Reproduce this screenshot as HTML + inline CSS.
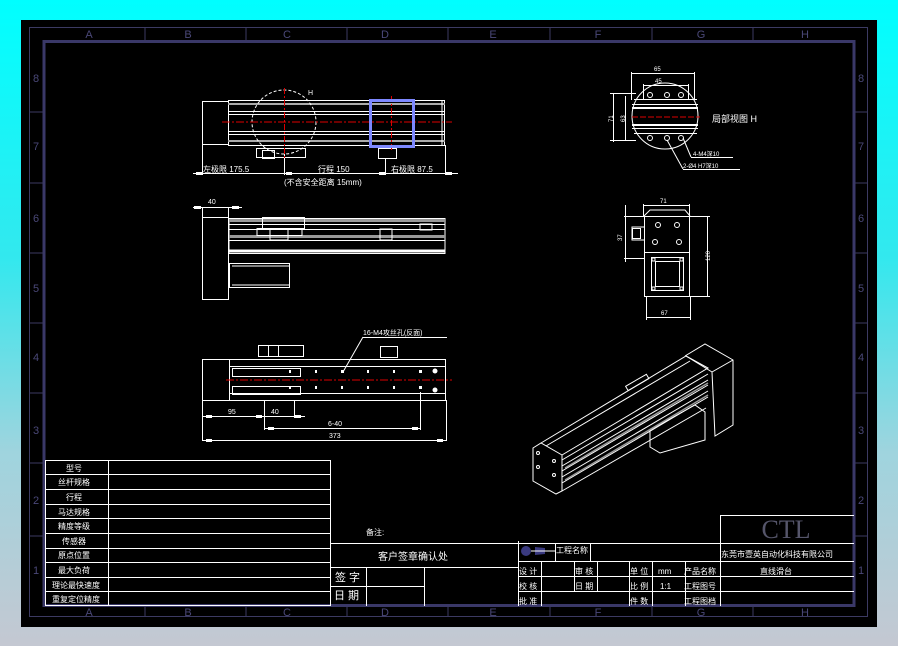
<!DOCTYPE html>
<html><head><meta charset="utf-8"><style>
html,body{margin:0;padding:0;width:898px;height:646px;overflow:hidden;}
body{background:linear-gradient(180deg,#00ffff 0%,#33e8ee 40%,#9fd4de 70%,#c4c8d2 100%);}
svg{position:absolute;left:0;top:0}
text{font-family:"Liberation Sans","Noto Sans CJK SC",sans-serif;fill:#fff;}
</style></head><body>
<svg width="898" height="646" viewBox="0 0 898 646" xmlns="http://www.w3.org/2000/svg">
<rect x="21" y="20" width="856" height="607" fill="#000"/>
<!-- outer thin frame -->
<rect x="29.5" y="27.5" width="838" height="589" fill="none" stroke="#3c3a62" stroke-width="1"/>
<rect x="44" y="41.5" width="810" height="564" fill="none" stroke="#3a3868" stroke-width="3"/>
<g stroke="#3c3a62" stroke-width="1">
<line x1="145" y1="27" x2="145" y2="41"/><line x1="246" y1="27" x2="246" y2="41"/><line x1="347" y1="27" x2="347" y2="41"/><line x1="448" y1="27" x2="448" y2="41"/><line x1="550" y1="27" x2="550" y2="41"/><line x1="652" y1="27" x2="652" y2="41"/><line x1="753" y1="27" x2="753" y2="41"/>
<line x1="145" y1="606" x2="145" y2="617"/><line x1="246" y1="606" x2="246" y2="617"/><line x1="347" y1="606" x2="347" y2="617"/><line x1="448" y1="606" x2="448" y2="617"/><line x1="550" y1="606" x2="550" y2="617"/><line x1="652" y1="606" x2="652" y2="617"/><line x1="753" y1="606" x2="753" y2="617"/>
<line x1="29" y1="112" x2="44" y2="112"/><line x1="29" y1="183" x2="44" y2="183"/><line x1="29" y1="253" x2="44" y2="253"/><line x1="29" y1="323" x2="44" y2="323"/><line x1="29" y1="393" x2="44" y2="393"/><line x1="29" y1="463" x2="44" y2="463"/><line x1="29" y1="536" x2="44" y2="536"/>
<line x1="854" y1="112" x2="868" y2="112"/><line x1="854" y1="183" x2="868" y2="183"/><line x1="854" y1="253" x2="868" y2="253"/><line x1="854" y1="323" x2="868" y2="323"/><line x1="854" y1="393" x2="868" y2="393"/><line x1="854" y1="463" x2="868" y2="463"/><line x1="854" y1="536" x2="868" y2="536"/>
</g>
<g font-size="11" style="fill:#4a4878" text-anchor="middle">
<text x="89" y="38" style="fill:#4a4878">A</text><text x="188" y="38" style="fill:#4a4878">B</text><text x="287" y="38" style="fill:#4a4878">C</text><text x="385" y="38" style="fill:#4a4878">D</text><text x="493" y="38" style="fill:#4a4878">E</text><text x="598" y="38" style="fill:#4a4878">F</text><text x="701" y="38" style="fill:#4a4878">G</text><text x="805" y="38" style="fill:#4a4878">H</text>
<text x="89" y="616" style="fill:#4a4878">A</text><text x="188" y="616" style="fill:#4a4878">B</text><text x="287" y="616" style="fill:#4a4878">C</text><text x="385" y="616" style="fill:#4a4878">D</text><text x="493" y="616" style="fill:#4a4878">E</text><text x="598" y="616" style="fill:#4a4878">F</text><text x="701" y="616" style="fill:#4a4878">G</text><text x="805" y="616" style="fill:#4a4878">H</text>
<text x="36" y="82" style="fill:#4a4878">8</text><text x="36" y="150" style="fill:#4a4878">7</text><text x="36" y="222" style="fill:#4a4878">6</text><text x="36" y="292" style="fill:#4a4878">5</text><text x="36" y="361" style="fill:#4a4878">4</text><text x="36" y="434" style="fill:#4a4878">3</text><text x="36" y="504" style="fill:#4a4878">2</text><text x="36" y="574" style="fill:#4a4878">1</text>
<text x="861" y="82" style="fill:#4a4878">8</text><text x="861" y="150" style="fill:#4a4878">7</text><text x="861" y="222" style="fill:#4a4878">6</text><text x="861" y="292" style="fill:#4a4878">5</text><text x="861" y="361" style="fill:#4a4878">4</text><text x="861" y="434" style="fill:#4a4878">3</text><text x="861" y="504" style="fill:#4a4878">2</text><text x="861" y="574" style="fill:#4a4878">1</text>
</g>

<!-- VIEW 1 top -->
<g stroke="#fff" stroke-width="1" fill="none">
<rect x="202.5" y="101.5" width="26" height="43"/>
<rect x="228.5" y="100.5" width="216" height="45"/>
<line x1="228" y1="104" x2="445" y2="104" stroke="#aaa" stroke-width="2"/>
<line x1="228" y1="111.5" x2="445" y2="111.5"/>
<line x1="228" y1="114.5" x2="445" y2="114.5"/>
<line x1="228" y1="131.5" x2="445" y2="131.5"/>
<line x1="228" y1="134.5" x2="445" y2="134.5"/>
<line x1="228" y1="141" x2="445" y2="141" stroke="#aaa" stroke-width="2"/>
<line x1="442" y1="101" x2="442" y2="145"/>
<circle cx="284" cy="122" r="32" stroke-dasharray="3,2"/>
<rect x="256.5" y="148.5" width="49" height="9"/>
<rect x="262.5" y="150.5" width="12" height="8"/>
<rect x="378.5" y="148.5" width="18" height="10"/>
<line x1="193" y1="173.5" x2="458" y2="173.5"/>
<line x1="202.5" y1="145" x2="202.5" y2="175"/><line x1="284.5" y1="150" x2="284.5" y2="175"/><line x1="385.5" y1="158" x2="385.5" y2="175"/><line x1="445.5" y1="145" x2="445.5" y2="175"/>
</g>
<g fill="#fff"><rect x="196" y="172" width="6" height="3"/><rect x="286" y="172" width="6" height="3"/><rect x="379" y="172" width="6" height="3"/><rect x="446" y="172" width="6" height="3"/></g>
<line x1="222" y1="122" x2="452" y2="122" stroke="#d00" stroke-width="1" stroke-dasharray="8,2,2,2"/>
<line x1="284.5" y1="88" x2="284.5" y2="160" stroke="#d00" stroke-dasharray="6,2,2,2"/>
<line x1="391.5" y1="96" x2="391.5" y2="150" stroke="#d00" stroke-dasharray="6,2,2,2"/>
<rect x="370.5" y="100.5" width="43" height="46" fill="none" stroke="#7d88ff" stroke-width="3"/>
<text x="308" y="95" font-size="7">H</text>
<text x="203" y="172" font-size="8">左极限 175.5</text>
<text x="318" y="172" font-size="8">行程 150</text>
<text x="391" y="172" font-size="8">右极限 87.5</text>
<text x="284" y="185" font-size="8">(不含安全距离 15mm)</text>

<!-- VIEW 2 -->
<g stroke="#fff" stroke-width="1" fill="none">
<line x1="193" y1="207.5" x2="242" y2="207.5"/>
<rect x="202.5" y="207.5" width="26" height="92"/>
<line x1="202" y1="217.5" x2="229" y2="217.5"/>
<rect x="229" y="218.5" width="216" height="35"/>
<line x1="229" y1="220.5" x2="445" y2="220.5" stroke="#999" stroke-width="3"/>
<line x1="229" y1="224.5" x2="445" y2="224.5"/>
<line x1="229" y1="229.5" x2="445" y2="229.5"/>
<line x1="229" y1="236.5" x2="445" y2="236.5" stroke="#999" stroke-width="3"/>
<line x1="229" y1="240.5" x2="445" y2="240.5"/>
<line x1="229" y1="251" x2="445" y2="251" stroke-width="3"/>
<rect x="262.5" y="217.5" width="42" height="11"/>
<rect x="257" y="228.5" width="45" height="7"/>
<rect x="270" y="229" width="18" height="11"/>
<rect x="380" y="229" width="12" height="11"/>
<rect x="420" y="224" width="12" height="6"/>
<rect x="229.5" y="263.5" width="60" height="24"/>
<line x1="232" y1="266" x2="290" y2="266"/><line x1="232" y1="285" x2="290" y2="285"/>
</g>
<g fill="#fff"><rect x="194" y="206" width="7" height="3"/><rect x="232" y="206" width="7" height="3"/></g>
<text x="208" y="204" font-size="7">40</text>

<!-- VIEW 3 -->
<g stroke="#fff" stroke-width="1" fill="none">
<rect x="202.5" y="359.5" width="243" height="41"/>
<line x1="229.5" y1="359" x2="229.5" y2="400"/>
<line x1="229" y1="366.5" x2="445" y2="366.5"/>
<line x1="229" y1="393.5" x2="445" y2="393.5"/>
<rect x="232.5" y="368.5" width="68" height="8"/>
<rect x="232.5" y="386.5" width="68" height="8"/>
<rect x="258.5" y="345.5" width="45" height="11"/>
<rect x="268.5" y="345.5" width="10" height="11"/>
<rect x="380.5" y="346.5" width="17" height="11"/>
<line x1="343" y1="372" x2="363" y2="337"/><line x1="363" y1="337.5" x2="447" y2="337.5"/>
<line x1="202.5" y1="400" x2="202.5" y2="441"/><line x1="264.5" y1="400" x2="264.5" y2="430"/><line x1="294.5" y1="400" x2="294.5" y2="418"/><line x1="420.5" y1="392" x2="420.5" y2="430"/><line x1="446.5" y1="400" x2="446.5" y2="441"/>
<line x1="202" y1="416.5" x2="305" y2="416.5"/>
<line x1="264" y1="428.5" x2="421" y2="428.5"/>
<line x1="202" y1="440.5" x2="447" y2="440.5"/>
</g>
<line x1="226" y1="380" x2="452" y2="380" stroke="#d00" stroke-dasharray="8,2,2,2"/>
<g fill="#fff">
<rect x="289" y="370" width="2" height="3"/><rect x="315" y="370" width="2" height="3"/><rect x="341" y="370" width="3" height="3"/><rect x="367" y="370" width="2" height="3"/><rect x="393" y="370" width="2" height="3"/><rect x="419" y="370" width="3" height="3"/>
<rect x="289" y="386" width="2" height="3"/><rect x="315" y="386" width="2" height="3"/><rect x="341" y="386" width="2" height="3"/><rect x="367" y="386" width="2" height="3"/><rect x="393" y="386" width="2" height="3"/><rect x="419" y="386" width="3" height="3"/>
<circle cx="435" cy="371" r="2.5"/><circle cx="435" cy="390" r="2.5"/>
<rect x="206" y="415" width="6" height="3"/><rect x="256" y="415" width="6" height="3"/><rect x="295" y="415" width="6" height="3"/><rect x="268" y="427" width="6" height="3"/><rect x="412" y="427" width="6" height="3"/><rect x="206" y="439" width="6" height="3"/><rect x="437" y="439" width="6" height="3"/>
</g>
<text x="228" y="414" font-size="7">95</text><text x="271" y="414" font-size="7">40</text><text x="328" y="426" font-size="7">6-40</text><text x="329" y="438" font-size="7">373</text>
<text x="363" y="335" font-size="7">16-M4攻丝孔(反面)</text>

<!-- Detail H -->
<g stroke="#fff" stroke-width="1" fill="none">
<ellipse cx="665" cy="116" rx="33" ry="33"/>
<line x1="634" y1="99.5" x2="697" y2="99.5"/><line x1="634" y1="133.5" x2="697" y2="133.5"/>
<line x1="632" y1="104.5" x2="698" y2="104.5"/><line x1="632" y1="108" x2="698" y2="108" stroke-width="2"/>
<line x1="632" y1="125" x2="698" y2="125" stroke-width="2"/><line x1="632" y1="128.5" x2="698" y2="128.5"/>
<line x1="631" y1="73.5" x2="694" y2="73.5"/><line x1="643" y1="85.5" x2="688" y2="85.5"/>
<line x1="631.5" y1="72" x2="631.5" y2="100"/><line x1="694.5" y1="72" x2="694.5" y2="100"/>
<line x1="643.5" y1="84" x2="643.5" y2="100"/><line x1="688.5" y1="84" x2="688.5" y2="100"/>
<line x1="613.5" y1="93" x2="613.5" y2="142"/><line x1="625.5" y1="96" x2="625.5" y2="140"/>
<line x1="610" y1="93.5" x2="636" y2="93.5"/><line x1="610" y1="140.5" x2="636" y2="140.5"/>
<line x1="683" y1="138" x2="691" y2="157"/><line x1="691" y1="157.5" x2="733" y2="157.5"/>
<line x1="667" y1="140" x2="683" y2="169"/><line x1="683" y1="169.5" x2="740" y2="169.5"/>
<circle cx="650" cy="95" r="2.5"/><circle cx="667" cy="95" r="2.5"/><circle cx="681" cy="95" r="2.5"/>
<circle cx="650" cy="138" r="2.5"/><circle cx="667" cy="138" r="2.5"/><circle cx="681" cy="138" r="2.5"/>
</g>
<line x1="632" y1="117" x2="700" y2="117" stroke="#d00" stroke-dasharray="6,2"/>
<text x="654" y="71" font-size="6">65</text><text x="655" y="83" font-size="6">45</text>
<text x="608" y="121" font-size="6" transform="rotate(-90 611 119)">71</text>
<text x="620" y="121" font-size="6" transform="rotate(-90 623 119)">63</text>
<text x="712" y="122" font-size="9">局部视图 H</text>
<text x="693" y="156" font-size="6">4-M4深10</text>
<text x="683" y="168" font-size="6">2-Ø4 H7深10</text>

<!-- End view -->
<g stroke="#fff" stroke-width="1" fill="none">
<rect x="644.5" y="216.5" width="45" height="80"/>
<line x1="644" y1="252.5" x2="690" y2="252.5"/>
<rect x="651.5" y="257.5" width="32" height="33"/>
<rect x="655.5" y="261.5" width="24" height="25"/>
<rect x="652" y="258" width="3" height="3"/><rect x="680" y="258" width="3" height="3"/><rect x="652" y="287" width="3" height="3"/><rect x="680" y="287" width="3" height="3"/>
<path d="M644 216 L650 210 L685 210 L690 216"/>
<line x1="643" y1="205.5" x2="689" y2="205.5"/>
<line x1="643.5" y1="204" x2="643.5" y2="216"/><line x1="689.5" y1="204" x2="689.5" y2="216"/>
<path d="M644 227 L632 227 L632 240 L644 240"/><rect x="632.5" y="228.5" width="8" height="10"/>
<line x1="625.5" y1="205" x2="625.5" y2="262"/><line x1="624" y1="216.5" x2="644" y2="216.5"/><line x1="624" y1="258.5" x2="644" y2="258.5"/>
<line x1="707.5" y1="216" x2="707.5" y2="296"/><line x1="690" y1="216.5" x2="710" y2="216.5"/><line x1="690" y1="296.5" x2="710" y2="296.5"/>
<line x1="646" y1="317.5" x2="690" y2="317.5"/><line x1="646.5" y1="296" x2="646.5" y2="320"/><line x1="690.5" y1="296" x2="690.5" y2="320"/>
<circle cx="658" cy="225" r="2.5"/><circle cx="677" cy="225" r="2.5"/><circle cx="655" cy="242" r="2.5"/><circle cx="679" cy="242" r="2.5"/>
</g>
<text x="660" y="203" font-size="6">71</text><text x="661" y="315" font-size="6">67</text>
<text x="615" y="238" font-size="6" transform="rotate(-90 620 236)">37</text>
<text x="703" y="262" font-size="6" transform="rotate(-90 706 258)">120</text>

<!-- Isometric -->
<g stroke="#fff" stroke-width="1" fill="none">
<path d="M533 448 L541 443 L562 455 L562 491 L556 494 L533 481 Z"/>
<path d="M541 443 L686 356 L708 368 L562 455"/>
<path d="M562 491 L706 408"/>
<path d="M685 356 L705 344 L733 360 L733 425 L715 436 L712 372 L733 360"/>
<path d="M712 372 L686 356"/>
<path d="M650 430 L695 405 L705 412 L705 440 L660 453 L650 447 Z"/>
<line x1="562" y1="460" x2="708" y2="374"/>
<line x1="562" y1="466" x2="708" y2="380"/>
<line x1="562" y1="471" x2="708" y2="385"/>
<line x1="562" y1="477" x2="708" y2="391"/>
<line x1="562" y1="483" x2="708" y2="397"/>
<line x1="546" y1="446" x2="690" y2="361"/>
<rect x="625" y="380" width="24" height="5" transform="rotate(-30 637 382)"/>
<circle cx="538" cy="453" r="1.5"/><circle cx="538" cy="467" r="1.5"/><circle cx="554" cy="461" r="1.5"/><circle cx="554" cy="475" r="1.5"/>
</g>
<g stroke="#999" stroke-width="1.5"><line x1="565" y1="468" x2="708" y2="383"/><line x1="565" y1="480" x2="708" y2="395"/></g>

<!-- Left table -->
<g stroke="#fff" stroke-width="1" fill="none">
<rect x="45.5" y="460.5" width="285" height="145"/>
<line x1="108.5" y1="460" x2="108.5" y2="606"/>
<line x1="45" y1="474.5" x2="331" y2="474.5"/><line x1="45" y1="489.5" x2="331" y2="489.5"/><line x1="45" y1="504.5" x2="331" y2="504.5"/><line x1="45" y1="518.5" x2="331" y2="518.5"/><line x1="45" y1="533.5" x2="331" y2="533.5"/><line x1="45" y1="548.5" x2="331" y2="548.5"/><line x1="45" y1="562.5" x2="331" y2="562.5"/><line x1="45" y1="577.5" x2="331" y2="577.5"/><line x1="45" y1="591.5" x2="331" y2="591.5"/>
</g>
<g font-size="8" text-anchor="middle">
<text x="74" y="471">型号</text><text x="74" y="485">丝杆规格</text><text x="74" y="500">行程</text><text x="74" y="515">马达规格</text><text x="74" y="529">精度等级</text><text x="74" y="544">传感器</text><text x="74" y="558">原点位置</text><text x="74" y="573">最大负荷</text><text x="76" y="588">理论最快速度</text><text x="76" y="602">重复定位精度</text>
</g>

<!-- Middle -->
<text x="366" y="535" font-size="8">备注:</text>
<g stroke="#fff" stroke-width="1" fill="none">
<line x1="330" y1="543.5" x2="518" y2="543.5"/>
<line x1="330" y1="567.5" x2="518" y2="567.5"/>
<line x1="330" y1="586.5" x2="424" y2="586.5"/>
<line x1="366.5" y1="567" x2="366.5" y2="606"/>
<line x1="424.5" y1="567" x2="424.5" y2="606"/>
<line x1="518.5" y1="541" x2="518.5" y2="606"/>
</g>
<text x="378" y="560" font-size="10">客户签章确认处</text>
<text x="335" y="581" font-size="11">签 字</text>
<text x="334" y="599" font-size="11">日 期</text>

<!-- Title block -->
<g stroke="#fff" stroke-width="1" fill="none">
<line x1="518" y1="543.5" x2="720" y2="543.5"/>
<line x1="518" y1="561.5" x2="720" y2="561.5"/>
<line x1="518" y1="576.5" x2="854" y2="576.5"/>
<line x1="518" y1="591.5" x2="854" y2="591.5"/>
<line x1="555.5" y1="543" x2="555.5" y2="561"/><line x1="590.5" y1="543" x2="590.5" y2="561"/>
<line x1="541.5" y1="562" x2="541.5" y2="606"/><line x1="574.5" y1="562" x2="574.5" y2="591"/><line x1="597.5" y1="562" x2="597.5" y2="591"/>
<line x1="629.5" y1="562" x2="629.5" y2="606"/><line x1="652.5" y1="562" x2="652.5" y2="606"/><line x1="685.5" y1="562" x2="685.5" y2="606"/>
<line x1="720.5" y1="515" x2="720.5" y2="606"/>
<line x1="720" y1="515.5" x2="854" y2="515.5"/>
<line x1="720" y1="543.5" x2="854" y2="543.5"/>
<line x1="720" y1="561.5" x2="854" y2="561.5"/>
</g>
<circle cx="526" cy="551" r="5" fill="#3a3a80"/>
<path d="M535 547 L545 548 L545 554 L535 555 Z" fill="#3a3a80"/>
<line x1="531" y1="551" x2="555" y2="551" stroke="#fff"/>
<text x="556" y="553" font-size="8">工程名称</text>
<g font-size="8">
<text x="519" y="574">设 计</text><text x="575" y="574">审 核</text><text x="630" y="574">单 位</text><text x="658" y="574">mm</text><text x="684" y="574">产品名称</text>
<text x="519" y="589">校 核</text><text x="575" y="589">日 期</text><text x="630" y="589">比 例</text><text x="660" y="589">1:1</text><text x="684" y="589">工程图号</text>
<text x="519" y="604">批 准</text><text x="630" y="604">件 数</text><text x="684" y="604">工程图档</text>
</g>
<text x="786" y="538" font-size="26" text-anchor="middle" style="fill:#55556a;font-family:'Liberation Serif',serif">CTL</text>
<text x="721" y="557" font-size="8">东莞市壹英自动化科技有限公司</text>
<text x="760" y="574" font-size="8">直线滑台</text>
</svg>
</body></html>
